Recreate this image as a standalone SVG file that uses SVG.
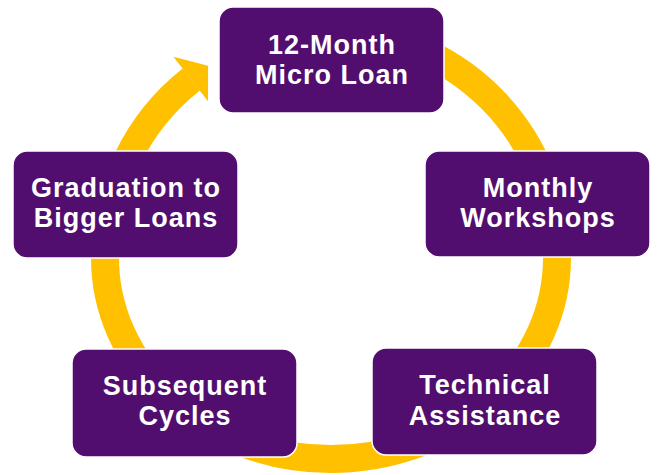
<svg xmlns="http://www.w3.org/2000/svg" width="659" height="475" viewBox="0 0 659 475">
  <style>
    .ring { fill: none; stroke: #FFC000; stroke-width: 28; }
    .head { fill: #FFC000; }
    .box { fill: #520E6E; stroke: #FFFFFF; stroke-width: 1.5; }
    .lbl { font-family: "Liberation Sans", Arial, sans-serif; font-weight: bold; font-size: 27px; letter-spacing: 1px; fill: #FFFFFF; text-anchor: middle; }
  </style>
  <rect width="659" height="475" fill="#FFFFFF"/>
  <g id="connectors">
    <path class="ring" d="M 331 32 A 226 226 0 0 1 557 258 A 226 201 0 0 1 105 258 A 226 226 0 0 1 191.3 79.4"/>
    <polygon class="head" points="173.4,56.8 208.1,65.7 208,101.3"/>
  </g>
  <g id="node-loan">
    <rect class="box" x="219" y="7" width="225" height="106" rx="14"/>
    <text class="lbl"><tspan x="332" y="53.5">12-Month</tspan><tspan x="332" y="84">Micro Loan</tspan></text>
  </g>
  <g id="node-workshops">
    <rect class="box" x="425" y="151" width="225" height="106" rx="14"/>
    <text class="lbl"><tspan x="538" y="196.5">Monthly</tspan><tspan x="538" y="227">Workshops</tspan></text>
  </g>
  <g id="node-assistance">
    <rect class="box" x="372" y="348" width="225" height="107" rx="14"/>
    <text class="lbl"><tspan x="485" y="394">Technical</tspan><tspan x="485" y="424.5">Assistance</tspan></text>
  </g>
  <g id="node-cycles">
    <rect class="box" x="72" y="349" width="225" height="108" rx="14"/>
    <text class="lbl"><tspan x="185" y="394.5">Subsequent</tspan><tspan x="185" y="425">Cycles</tspan></text>
  </g>
  <g id="node-graduation">
    <rect class="box" x="13" y="151" width="225" height="107" rx="14"/>
    <text class="lbl"><tspan x="126" y="196.5">Graduation to</tspan><tspan x="126" y="227">Bigger Loans</tspan></text>
  </g>
</svg>
